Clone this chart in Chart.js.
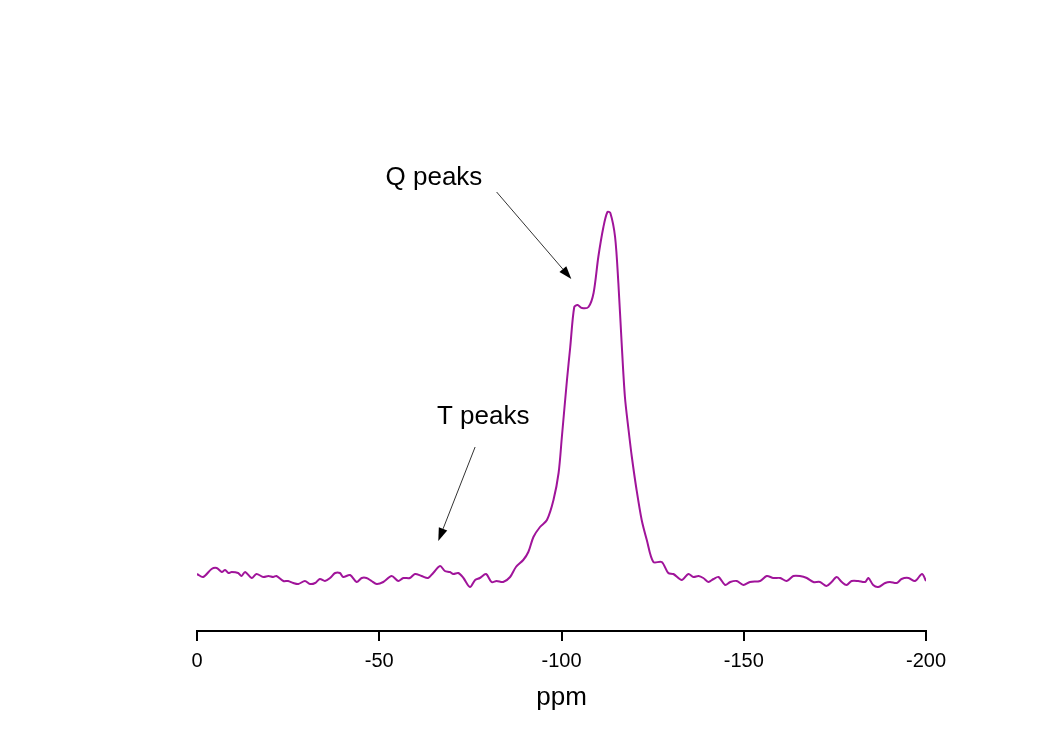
<!DOCTYPE html>
<html>
<head>
<meta charset="utf-8">
<script src="https://cdn.jsdelivr.net/npm/chart.js@4"></script>
<style>
  html, body { margin: 0; padding: 0; background: #ffffff; }
  #wrap { width: 1063px; height: 747px; }
</style>
</head>
<body>
<div id="wrap"><canvas id="nmrChart"></canvas></div>
<script>
// chemical shift (ppm) and intensity (arbitrary units)
const ppm = [0, -1.7, -4, -5.4, -6.8, -7.7, -8.6, -9.5, -11.3, -12.2, -13.2, -15, -16.3, -18.2, -19.6,
  -20.9, -21.8, -23.7, -25, -26.4, -27.8, -29.6, -31, -32.4, -33.7, -35.1, -36.5, -37.9, -39.2, -40.1,
  -42, -43.8, -45.2, -46.5, -47.9, -49.3, -51.1, -53.4, -55.2, -56.6, -58.4, -59.8, -61.6, -63.4, -64.8,
  -66.7, -68, -69.4, -70.3, -71.7, -73.1, -74.9, -76.3, -77.6, -79.3, -80.8, -82.2, -84, -85.9, -87.5,
  -89.5, -90.9, -92.3, -94.1, -96, -97.8, -99.2, -100.1, -101.5, -102.4, -103.5, -104.4, -105.6, -107.4,
  -108.8, -110.1, -111.5, -112.6, -113.4, -114.7, -115.6, -116.5, -117.4, -118.4, -119.3, -120.6, -122,
  -123.4, -125.2, -127.5, -129.3, -130.7, -133, -134.8, -136.2, -137.6, -138.9, -140.3, -141.7, -143.1,
  -144.9, -146.3, -148.1, -149.9, -151.7, -154.5, -156.3, -158.1, -160, -161.8, -163.6, -165.4, -167.3,
  -169.1, -170.9, -172.7, -174.1, -175.5, -176.9, -178.2, -179.6, -181.4, -183.3, -184.2, -185.5, -186.9,
  -188.8, -190.1, -192, -193.3, -195.2, -197, -198.9, -200];
const intensity = [5.7, 5.4, 6.2, 6.3, 5.9, 6.1, 5.8, 5.9, 5.8, 5.5, 5.9, 5.3, 5.7, 5.4, 5.5,
  5.4, 5.5, 5.0, 5.0, 4.8, 4.7, 5.0, 4.7, 4.8, 5.2, 5.0, 5.3, 5.8, 5.8, 5.4,
  5.6, 4.9, 5.3, 5.3, 5.0, 4.7, 4.9, 5.5, 5.0, 5.3, 5.3, 5.7, 5.5, 5.3, 5.8,
  6.5, 6.0, 5.9, 5.7, 5.8, 5.3, 4.4, 5.1, 5.3, 5.7, 4.9, 5.0, 4.9, 5.4, 6.4,
  7.1, 7.9, 9.4, 10.4, 11.1, 13.1, 15.8, 19.4, 25.1, 28.4, 32.4, 32.6, 32.3, 32.4,
  33.8, 37.4, 40.4, 41.9, 41.8, 39.4, 34.8, 28.8, 23.4, 20.1, 17.4, 14.1, 11.1,
  9.1, 6.9, 6.9, 5.8, 5.7, 5.1, 5.7, 5.4, 5.5, 5.3, 4.9, 5.2, 5.4,
  4.6, 4.9, 5.0, 4.6, 4.9, 5.0, 5.5, 5.3, 5.3, 5.0, 5.5, 5.5, 5.3,
  4.9, 4.9, 4.5, 4.9, 5.4, 4.9, 4.6, 5.0, 5.0, 4.9, 5.3, 4.6, 4.4,
  4.8, 4.9, 4.8, 5.2, 5.3, 5.0, 5.7, 5.0];
const xTicks = [0, -50, -100, -150, -200];

// annotation labels and arrows, in data units
const labels = [
  { text: 'Q peaks', x: -65, y: 45.3 },
  { text: 'T peaks', x: -78.5, y: 21.4 }
];
const arrows = [
  { from: [-82.2, 43.9], to: [-102.7, 35.2] },
  { from: [-76.3, 18.4], to: [-66.2, 9.0] }
];

const points = ppm.map((p, i) => ({ x: p, y: intensity[i] }));

const annotate = {
  id: 'annotate',
  afterDraw(chart) {
    const { ctx, scales: { x, y } } = chart;
    ctx.save();
    ctx.fillStyle = '#000';
    ctx.font = '26px "Liberation Sans", Arial, sans-serif';
    ctx.textAlign = 'center';
    ctx.textBaseline = 'middle';
    labels.forEach(l => ctx.fillText(l.text, x.getPixelForValue(l.x), y.getPixelForValue(l.y)));

    arrows.forEach(a => {
      const x1 = x.getPixelForValue(a.from[0]), y1 = y.getPixelForValue(a.from[1]);
      const x2 = x.getPixelForValue(a.to[0]), y2 = y.getPixelForValue(a.to[1]);
      const ang = Math.atan2(y2 - y1, x2 - x1);
      const len = 13, half = 4.5;
      ctx.strokeStyle = '#333';
      ctx.lineWidth = 1;
      ctx.beginPath();
      ctx.moveTo(x1, y1);
      ctx.lineTo(x2 - Math.cos(ang) * len, y2 - Math.sin(ang) * len);
      ctx.stroke();
      ctx.beginPath();
      ctx.moveTo(x2, y2);
      ctx.lineTo(x2 - Math.cos(ang) * len - Math.sin(ang) * half, y2 - Math.sin(ang) * len + Math.cos(ang) * half);
      ctx.lineTo(x2 - Math.cos(ang) * len + Math.sin(ang) * half, y2 - Math.sin(ang) * len - Math.cos(ang) * half);
      ctx.closePath();
      ctx.fill();
    });
    ctx.restore();
  }
};

const ctx = document.getElementById('nmrChart').getContext('2d');
const nmrChart = new Chart(ctx, {
  type: 'line',
  data: {
    datasets: [{
      data: points,
      borderColor: '#a0149a',
      borderWidth: 2,
      pointRadius: 0,
      tension: 0.3,
      fill: false
    }]
  },
  options: {
    responsive: true,
    maintainAspectRatio: false,
    animation: false,
    layout: { padding: { left: 197, right: 137, top: 31, bottom: 0 } },
    plugins: {
      legend: { display: false },
      tooltip: { enabled: false }
    },
    scales: {
      x: {
        type: 'linear',
        min: -200,
        max: 0,
        reverse: true,
        afterFit(scale) { scale.height = 116; },
        afterBuildTicks(scale) { scale.ticks = xTicks.map(v => ({ value: v })); },
        grid: { display: true, drawOnChartArea: false, drawTicks: true, tickLength: 10, color: '#000', lineWidth: 2 },
        border: { display: true, color: '#000', width: 2 },
        ticks: {
          color: '#000',
          padding: 8,
          maxRotation: 0,
          font: { family: '"Liberation Sans", Arial, sans-serif', size: 20 }
        },
        title: {
          display: true,
          text: 'ppm',
          color: '#000',
          padding: { top: 0, bottom: 34 },
          font: { family: '"Liberation Sans", Arial, sans-serif', size: 26 }
        }
      },
      y: {
        display: false,
        min: 0,
        max: 60
      }
    }
  },
  plugins: [annotate]
});
</script>
</body>
</html>
